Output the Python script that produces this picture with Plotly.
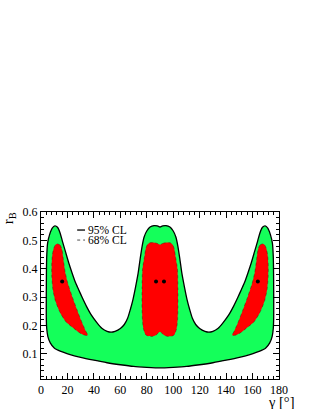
import plotly.graph_objects as go

# 95% CL contour (gamma in degrees, r_B)
outer_gamma = [90, 80, 70, 60, 50, 40, 30, 22, 15, 10, 7, 5.2, 4.3, 4, 4, 4.1, 4.3, 5, 6.5, 8.5, 10.5, 12.5,
               14.5, 16, 18.5, 21, 23.5, 26, 28.5, 31, 34.3, 38, 42.4, 46, 50, 53, 56, 60, 63, 65.5, 67.5,
               69.5, 71.5, 73.5, 75, 76.5, 78, 80, 82.5, 85.5, 88, 90,
               92, 94.5, 97.5, 100, 102, 103.5, 105, 106.5, 108.5, 110.5, 112.5, 114.5, 117, 120, 124, 127,
               130, 134, 137.6, 142, 145.7, 149, 151.5, 154, 156.5, 159, 161.5, 164, 165.5, 167.5, 169.5,
               171.5, 173.5, 175, 175.7, 175.9, 176, 176, 175.7, 174.8, 173, 170, 165, 158, 150, 140, 130,
               120, 110, 100, 90]
outer_rb = [0.05, 0.052, 0.055, 0.061, 0.068, 0.077, 0.087, 0.097, 0.108, 0.12, 0.138, 0.16, 0.19, 0.23, 0.3,
            0.38, 0.44, 0.49, 0.52, 0.543, 0.551, 0.546, 0.525, 0.5, 0.46, 0.42, 0.385, 0.352, 0.326, 0.3,
            0.268, 0.237, 0.209, 0.19, 0.179, 0.176, 0.179, 0.189, 0.203, 0.225, 0.255, 0.29, 0.335, 0.385,
            0.435, 0.48, 0.512, 0.533, 0.547, 0.552, 0.551, 0.547,
            0.551, 0.552, 0.547, 0.533, 0.512, 0.48, 0.435, 0.385, 0.335, 0.29, 0.255, 0.225, 0.203, 0.189,
            0.179, 0.176, 0.179, 0.19, 0.209, 0.237, 0.268, 0.3, 0.326, 0.352, 0.385, 0.42, 0.46, 0.5, 0.525,
            0.546, 0.551, 0.543, 0.52, 0.49, 0.44, 0.38, 0.3, 0.23, 0.19, 0.16, 0.138, 0.12, 0.108, 0.097,
            0.087, 0.077, 0.068, 0.061, 0.055, 0.052, 0.05]

# 68% CL contours
left68_gamma = [12.1, 14.5, 15.9, 17, 18.4, 20.5, 23.5, 27, 31, 33.8, 35.4, 32.3, 28.5, 24.7, 19, 14.6, 11,
                9, 8.2, 8.1, 8.5, 9.5, 10.7, 12.1]
left68_rb = [0.488, 0.483, 0.467, 0.43, 0.385, 0.345, 0.303, 0.258, 0.21, 0.18, 0.165, 0.166, 0.176, 0.19,
             0.212, 0.244, 0.285, 0.326, 0.37, 0.41, 0.445, 0.47, 0.483, 0.488]
right68_gamma = [167.9, 165.5, 164.1, 163, 161.6, 159.5, 156.5, 153, 149, 146.2, 144.6, 147.7, 151.5, 155.3,
                 161, 165.4, 169, 171, 171.8, 171.9, 171.5, 170.5, 169.3, 167.9]
right68_rb = left68_rb
mid68_gamma = [90, 92, 95, 98, 99.5, 100.8, 101.7, 103.2, 103.6, 103.6, 103.3, 102.6, 101, 99, 96, 93.5,
               91.5, 90, 88.5, 86.5, 84, 81, 79, 77.4, 76.7, 76.4, 76.4, 76.8, 78.3, 79.2, 80.5, 82, 85, 88, 90]
mid68_rb = [0.485, 0.489, 0.492, 0.491, 0.485, 0.47, 0.444, 0.4, 0.33, 0.26, 0.22, 0.19, 0.168, 0.162, 0.161,
            0.164, 0.172, 0.177, 0.172, 0.164, 0.161, 0.162, 0.168, 0.19, 0.22, 0.26, 0.33, 0.4, 0.444, 0.47,
            0.485, 0.491, 0.492, 0.489, 0.485]

# best-fit points
best_gamma = [16, 87, 93, 164]
best_rb = [0.355, 0.355, 0.355, 0.355]

legend_labels = ["95% CL", "68% CL"]

GREEN = "#14ff5a"
RED = "#ff0000"
FONT = "Liberation Serif"

fig = go.Figure()
fig.add_trace(go.Scatter(x=outer_gamma, y=outer_rb, mode="lines", fill="toself", fillcolor=GREEN,
                         line=dict(color="black", width=1.3, shape="spline", smoothing=0.6),
                         hoverinfo="skip", showlegend=False))
for gx, gy in [(left68_gamma, left68_rb), (mid68_gamma, mid68_rb), (right68_gamma, right68_rb)]:
    fig.add_trace(go.Scatter(x=gx, y=gy, mode="lines", fill="toself", fillcolor=RED,
                             line=dict(color="rgba(60,0,0,0.6)", width=0.6, dash="dot", shape="spline",
                                       smoothing=0.6),
                             hoverinfo="skip", showlegend=False))
fig.add_trace(go.Scatter(x=best_gamma, y=best_rb, mode="markers",
                         marker=dict(color="black", size=4), hoverinfo="skip", showlegend=False))

axis_common = dict(showline=True, linecolor="black", linewidth=1, mirror="allticks", ticks="inside",
                   ticklen=6, tickwidth=1, tickcolor="black", showgrid=False, zeroline=False,
                   tickfont=dict(family=FONT, size=12, color="black"))
fig.update_xaxes(range=[0, 180], dtick=20, tick0=0,
                 minor=dict(dtick=4, ticks="inside", ticklen=3, tickcolor="black", showgrid=False),
                 **axis_common)
fig.update_yaxes(range=[0.0107, 0.6], dtick=0.1, tick0=0, tickformat=".1f",
                 minor=dict(dtick=0.02, ticks="inside", ticklen=3, tickcolor="black", showgrid=False),
                 **axis_common)

# legend (manual, ROOT-like)
fig.add_shape(type="line", xref="paper", yref="paper", x0=0.152, x1=0.185, y0=0.892, y1=0.892,
              line=dict(color="black", width=1.3))
fig.add_shape(type="line", xref="paper", yref="paper", x0=0.152, x1=0.185, y0=0.832, y1=0.832,
              line=dict(color="black", width=0.7, dash="dot"))
fig.add_annotation(xref="paper", yref="paper", x=0.188, y=0.892, text=legend_labels[0], showarrow=False,
                   xanchor="left", yanchor="middle", font=dict(family=FONT, size=11.5, color="black"))
fig.add_annotation(xref="paper", yref="paper", x=0.188, y=0.832, text=legend_labels[1], showarrow=False,
                   xanchor="left", yanchor="middle", font=dict(family=FONT, size=11.5, color="black"))

# axis titles
fig.add_annotation(xref="paper", yref="paper", x=1.076, y=-0.14, text="γ [°]", showarrow=False,
                   xanchor="right", yanchor="middle", font=dict(family=FONT, size=14.5, color="black"))
fig.add_annotation(xref="paper", yref="paper", x=-0.135, y=1.01, text="r<sub>B</sub>", showarrow=False,
                   textangle=-90, xanchor="center", yanchor="top",
                   font=dict(family=FONT, size=15, color="black"))

fig.update_layout(width=316, height=409, margin=dict(l=41, r=37, t=212, b=30),
                  paper_bgcolor="white", plot_bgcolor="white", showlegend=False)

# remove the default page margin so the figure fills the window exactly
fig.write_html("out.html", config={"displayModeBar": False},
               post_script="document.body.style.margin='0px';")
